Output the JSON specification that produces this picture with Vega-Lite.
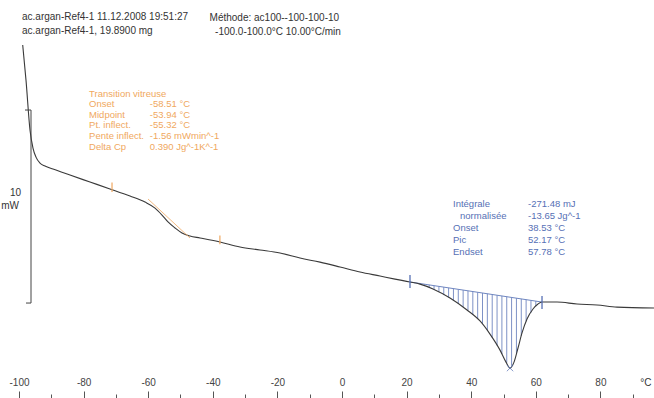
{
  "$schema": "https://vega.github.io/schema/vega-lite/v6.json",
  "width": 654,
  "height": 398,
  "autosize": "none",
  "padding": 0,
  "background": "white",
  "config": {"view": {"stroke": null}, "text": {"font": "Liberation Sans", "fontSize": 10}},
  "datasets": {
    "curve": [
      {"T": -98.85, "mW": 13.37}, {"T": -97.83, "mW": 11.55}, {"T": -96.59, "mW": 8.96}, {"T": -95.67, "mW": 8.03},
      {"T": -94.74, "mW": 7.56}, {"T": -93.5, "mW": 7.25}, {"T": -91.95, "mW": 7.1}, {"T": -89.47, "mW": 6.94},
      {"T": -84.21, "mW": 6.63}, {"T": -78.02, "mW": 6.27}, {"T": -71.83, "mW": 5.91}, {"T": -65.63, "mW": 5.54},
      {"T": -60.99, "mW": 5.23}, {"T": -57.89, "mW": 4.92}, {"T": -55.73, "mW": 4.56}, {"T": -53.87, "mW": 4.2},
      {"T": -51.7, "mW": 3.89}, {"T": -49.54, "mW": 3.63}, {"T": -47.06, "mW": 3.47}, {"T": -43.96, "mW": 3.37},
      {"T": -37.77, "mW": 3.16}, {"T": -31.58, "mW": 2.9}, {"T": -25.39, "mW": 2.75}, {"T": -19.2, "mW": 2.59},
      {"T": -13.0, "mW": 2.33}, {"T": -6.81, "mW": 2.12}, {"T": -0.62, "mW": 1.87}, {"T": 5.57, "mW": 1.61},
      {"T": 11.76, "mW": 1.4}, {"T": 16.41, "mW": 1.24}, {"T": 21.05, "mW": 1.09}, {"T": 24.15, "mW": 0.98},
      {"T": 28.17, "mW": 0.73}, {"T": 33.44, "mW": 0.26}, {"T": 38.7, "mW": -0.36}, {"T": 42.72, "mW": -0.93},
      {"T": 45.82, "mW": -1.61}, {"T": 48.92, "mW": -2.44}, {"T": 50.77, "mW": -3.06}, {"T": 52.01, "mW": -3.37},
      {"T": 53.25, "mW": -3.06}, {"T": 54.49, "mW": -2.33}, {"T": 55.73, "mW": -1.55}, {"T": 57.28, "mW": -0.83},
      {"T": 59.13, "mW": -0.31}, {"T": 60.68, "mW": -0.05}, {"T": 61.92, "mW": 0.05}, {"T": 66.56, "mW": 0.05},
      {"T": 72.76, "mW": -0.05}, {"T": 78.95, "mW": -0.1}, {"T": 85.14, "mW": -0.21}, {"T": 96.59, "mW": -0.26}
    ],
    "hatch": [
      {"T": 22.5, "base": 1.05, "curve": 1.03}, {"T": 24, "base": 1.015, "curve": 0.98}, {"T": 25.5, "base": 0.977, "curve": 0.92},
      {"T": 27, "base": 0.94, "curve": 0.8}, {"T": 28.5, "base": 0.9, "curve": 0.7}, {"T": 30, "base": 0.862, "curve": 0.57},
      {"T": 31.5, "base": 0.824, "curve": 0.41}, {"T": 33, "base": 0.786, "curve": 0.28}, {"T": 34.5, "base": 0.748, "curve": 0.12},
      {"T": 36, "base": 0.71, "curve": -0.04}, {"T": 37.5, "base": 0.67, "curve": -0.21}, {"T": 39, "base": 0.633, "curve": -0.39},
      {"T": 40.5, "base": 0.595, "curve": -0.6}, {"T": 42, "base": 0.557, "curve": -0.83}, {"T": 43.5, "base": 0.519, "curve": -1.08},
      {"T": 45, "base": 0.48, "curve": -1.42}, {"T": 46.5, "base": 0.443, "curve": -1.8}, {"T": 48, "base": 0.405, "curve": -2.2},
      {"T": 49.5, "base": 0.367, "curve": -2.64}, {"T": 51, "base": 0.329, "curve": -3.1}, {"T": 52.5, "base": 0.29, "curve": -3.25},
      {"T": 54, "base": 0.252, "curve": -2.62}, {"T": 55.5, "base": 0.214, "curve": -1.7}, {"T": 57, "base": 0.176, "curve": -0.95},
      {"T": 58.5, "base": 0.138, "curve": -0.5}, {"T": 60, "base": 0.1, "curve": -0.17}
    ]
  },
  "encoding": {
    "x": {"field": "T", "type": "quantitative", "scale": {"domain": [-105.88, 96.59], "nice": false, "zero": false},
      "axis": {"orient": "top", "offset": -398, "domain": false, "grid": false,
        "values": [-100, -90, -80, -70, -60, -50, -40, -30, -20, -10, 0, 10, 20, 30, 40, 50, 60, 70, 80, 90],
        "tickSize": {"condition": {"test": "datum.value % 20 === 0", "value": 7}, "value": 4},
        "tickColor": "#555", "tickWidth": 1,
        "labelExpr": "datum.value % 20 === 0 ? '' + datum.value : ''",
        "labelPadding": 4, "labelFont": "Liberation Sans", "labelFontSize": 10, "labelColor": "#444",
        "labelFlush": false, "labelOverlap": false, "title": null}},
    "y": {"field": "mW", "type": "quantitative", "scale": {"domain": [-4.92, 15.7], "nice": false, "zero": false}, "axis": null}
  },
  "layer": [
    {
      "data": {"name": "hatch"},
      "mark": {"type": "rule", "color": "#6f86c0", "strokeWidth": 0.9},
      "encoding": {
        "y": {"field": "base", "type": "quantitative", "axis": null},
        "y2": {"field": "curve"}
      }
    },
    {
      "data": {"values": [{"T": 21.05, "mW": 1.09, "T2": 61.92, "mW2": 0.05}]},
      "mark": {"type": "rule", "color": "#6f86c0", "strokeWidth": 1},
      "encoding": {
        "x2": {"field": "T2"},
        "y2": {"field": "mW2"}
      }
    },
    {
      "data": {"name": "curve"},
      "mark": {"type": "line", "color": "#3a3a3a", "strokeWidth": 1.1, "interpolate": "monotone"}
    },
    {
      "data": {"values": [{"T": -60.06, "mW": 5.39, "T2": -47.06, "mW2": 3.37}]},
      "mark": {"type": "rule", "color": "#f0a860", "strokeWidth": 1, "opacity": 0.8},
      "encoding": {
        "x2": {"field": "T2"},
        "y2": {"field": "mW2"}
      }
    },
    {
      "data": {"values": [{"T": -71.2, "top": 6.25, "bottom": 5.75}, {"T": -37.8, "top": 3.5, "bottom": 3.05}]},
      "mark": {"type": "rule", "color": "#f0a860", "strokeWidth": 1.2},
      "encoding": {
        "y": {"field": "top", "type": "quantitative", "axis": null},
        "y2": {"field": "bottom"}
      }
    },
    {
      "data": {"values": [{"T": 21.05, "top": 1.45, "bottom": 0.78}, {"T": 61.92, "top": 0.36, "bottom": -0.31}]},
      "mark": {"type": "rule", "color": "#5670b5", "strokeWidth": 1.3},
      "encoding": {
        "y": {"field": "top", "type": "quantitative", "axis": null},
        "y2": {"field": "bottom"}
      }
    },
    {
      "data": {"values": [{"T": 52.01, "mW": -3.37}]},
      "mark": {"type": "point", "shape": "M-1,-1L1,1M1,-1L-1,1", "stroke": "#5670b5", "strokeWidth": 1, "size": 40, "filled": false}
    },
    {
      "data": {"values": [
        {"T": -96.28, "mW": 10, "T2": -96.28, "mW2": 0},
        {"T": -98.14, "mW": 10, "T2": -96.28, "mW2": 10},
        {"T": -97.83, "mW": 0, "T2": -96.28, "mW2": 0}
      ]},
      "mark": {"type": "rule", "color": "#444", "strokeWidth": 1},
      "encoding": {
        "x2": {"field": "T2"},
        "y2": {"field": "mW2"}
      }
    },
    {
      "data": {"values": [
        {"T": -99.07, "mW": 14.82, "text": "ac.argan-Ref4-1  11.12.2008 19:51:27"},
        {"T": -99.07, "mW": 14.09, "text": "ac.argan-Ref4-1,  19.8900 mg"},
        {"T": -41.0, "mW": 14.77, "text": "Méthode: ac100--100-100-10"},
        {"T": -39.3, "mW": 14.06, "text": "-100.0-100.0°C 10.00°C/min"},
        {"T": 92.3, "mW": -4.15, "text": "°C"},
        {"T": -102.8, "mW": 5.7, "text": "10"},
        {"T": -105.5, "mW": 5.03, "text": "mW"}
      ]},
      "mark": {"type": "text", "align": "left", "baseline": "middle", "color": "#333", "fontSize": 10},
      "encoding": {
        "text": {"field": "text"}
      }
    },
    {
      "data": {"values": [
        {"T": -78.3, "mW": 10.85, "text": "Transition vitreuse"},
        {"T": -78.3, "mW": 10.31, "text": "Onset"},
        {"T": -78.3, "mW": 9.74, "text": "Midpoint"},
        {"T": -78.3, "mW": 9.2, "text": "Pt. inflect."},
        {"T": -78.3, "mW": 8.63, "text": "Pente inflect."},
        {"T": -78.3, "mW": 8.08, "text": "Delta Cp"},
        {"T": -59.5, "mW": 10.31, "text": "-58.51 °C"},
        {"T": -59.5, "mW": 9.74, "text": "-53.94 °C"},
        {"T": -59.5, "mW": 9.2, "text": "-55.32 °C"},
        {"T": -59.5, "mW": 8.63, "text": "-1.56 mWmin^-1"},
        {"T": -59.5, "mW": 8.08, "text": "0.390 Jg^-1K^-1"}
      ]},
      "mark": {"type": "text", "align": "left", "baseline": "middle", "color": "#f0a860", "fontSize": 9.5},
      "encoding": {
        "text": {"field": "text"}
      }
    },
    {
      "data": {"values": [
        {"T": 34.37, "mW": 5.13, "text": "Intégrale"},
        {"T": 36.53, "mW": 4.51, "text": "normalisée"},
        {"T": 34.37, "mW": 3.89, "text": "Onset"},
        {"T": 34.37, "mW": 3.26, "text": "Pic"},
        {"T": 34.37, "mW": 2.64, "text": "Endset"},
        {"T": 57.59, "mW": 5.13, "text": "-271.48 mJ"},
        {"T": 57.59, "mW": 4.51, "text": "-13.65 Jg^-1"},
        {"T": 57.59, "mW": 3.89, "text": "38.53 °C"},
        {"T": 57.59, "mW": 3.26, "text": "52.17 °C"},
        {"T": 57.59, "mW": 2.64, "text": "57.78 °C"}
      ]},
      "mark": {"type": "text", "align": "left", "baseline": "middle", "color": "#5670b5", "fontSize": 9.5},
      "encoding": {
        "text": {"field": "text"}
      }
    }
  ]
}
